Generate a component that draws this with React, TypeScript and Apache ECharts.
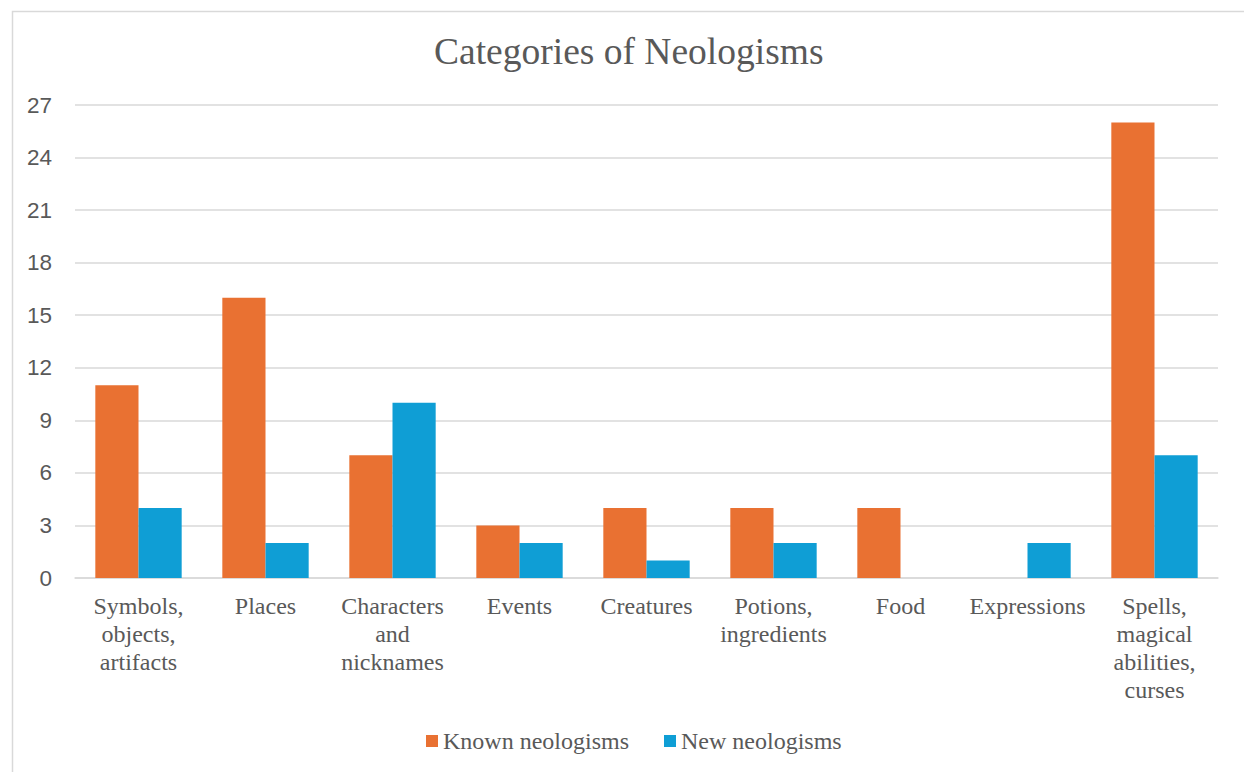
import React, { useEffect, useRef } from "react";
import * as echarts from "echarts";

const categories = [
  "Symbols, objects, artifacts",
  "Places",
  "Characters and nicknames",
  "Events",
  "Creatures",
  "Potions, ingredients",
  "Food",
  "Expressions",
  "Spells, magical abilities, curses",
];
const knownNeologisms = [11, 16, 7, 3, 4, 4, 4, 0, 26];
const newNeologisms = [4, 2, 10, 2, 1, 2, 0, 2, 7];
const seriesNames = ["Known neologisms", "New neologisms"];
const title = "Categories of Neologisms";

const SERIF = "'Liberation Serif', 'Times New Roman', serif";
const SANS = "'Liberation Sans', Arial, sans-serif";
const TEXT = "#595959";

export default function App() {
  const ref = useRef<HTMLDivElement>(null);
  useEffect(() => {
    document.body.style.margin = "0";
    const chart = echarts.init(ref.current!, null, { renderer: "svg" });
    chart.setOption({
      animation: false,
      backgroundColor: "#fff",
      title: {
        text: title,
        left: 434,
        top: 32,
        padding: 0,
        textStyle: { fontFamily: SERIF, fontSize: 37.5, fontWeight: "normal", color: TEXT },
      },
      graphic: [
        {
          type: "rect",
          left: 10,
          top: 9,
          shape: { width: 1260, height: 800 },
          style: { fill: "none", stroke: "#d9d9d9", lineWidth: 1.5 },
          silent: true,
        },
      ],
      grid: { left: 75, right: 26, top: 105, bottom: 194, containLabel: false },
      legend: {
        bottom: 14,
        left: 421,
        icon: "rect",
        itemWidth: 12,
        itemHeight: 12,
        itemGap: 35,
        textStyle: { fontFamily: SERIF, fontSize: 24, color: TEXT },
        data: seriesNames,
      },
      xAxis: {
        type: "category",
        data: categories,
        axisLine: { show: true, lineStyle: { color: "#d9d9d9", width: 1.5 } },
        axisTick: { show: false },
        axisLabel: {
          interval: 0,
          margin: 14,
          fontFamily: SERIF,
          fontSize: 24,
          lineHeight: 28,
          color: TEXT,
          formatter: (v: string) => v.split(" ").join("\n"),
        },
      },
      yAxis: {
        type: "value",
        min: 0,
        max: 27,
        interval: 3,
        axisLine: { show: false },
        axisTick: { show: false },
        splitLine: { lineStyle: { color: "#d9d9d9", width: 1.5 } },
        axisLabel: { margin: 23, fontFamily: SANS, fontSize: 22.5, color: TEXT },
      },
      series: [
        {
          name: seriesNames[0],
          type: "bar",
          data: knownNeologisms,
          barGap: "0%",
          barCategoryGap: "32%",
          itemStyle: { color: "#E97132" },
        },
        {
          name: seriesNames[1],
          type: "bar",
          data: newNeologisms,
          barGap: "0%",
          barCategoryGap: "32%",
          itemStyle: { color: "#0F9ED5" },
        },
      ],
    });
    return () => chart.dispose();
  }, []);
  return <div ref={ref} style={{ width: 1244, height: 772 }} />;
}
